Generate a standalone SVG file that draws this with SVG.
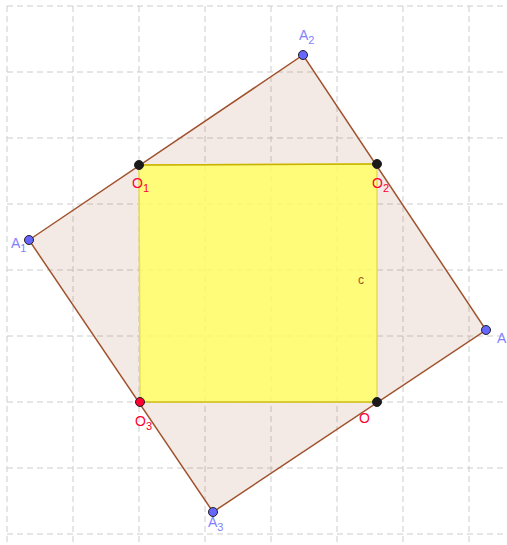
<svg xmlns="http://www.w3.org/2000/svg" width="507" height="545" viewBox="0 0 507 545">
<style>
.grid line{stroke:#cccccc;stroke-width:1;stroke-dasharray:6,4}
.pt{stroke:#202020;stroke-width:1}
.lblA{font-family:"Liberation Sans",Arial,sans-serif;font-size:14px;fill:#7f7fff}
.lblO{font-family:"Liberation Sans",Arial,sans-serif;font-size:14px;fill:#ff0033}
.sub{font-size:11px}
</style>
<rect width="507" height="545" fill="#ffffff"/>
<g class="grid">
<line x1="7" y1="6" x2="7" y2="545"/>
<line x1="73" y1="6" x2="73" y2="545"/>
<line x1="139" y1="6" x2="139" y2="545"/>
<line x1="205" y1="6" x2="205" y2="545"/>
<line x1="271" y1="6" x2="271" y2="545"/>
<line x1="337" y1="6" x2="337" y2="545"/>
<line x1="403" y1="6" x2="403" y2="545"/>
<line x1="469" y1="6" x2="469" y2="545"/>
<line x1="7" y1="6" x2="507" y2="6"/>
<line x1="7" y1="72" x2="507" y2="72"/>
<line x1="7" y1="138" x2="507" y2="138"/>
<line x1="7" y1="204" x2="507" y2="204"/>
<line x1="7" y1="270" x2="507" y2="270"/>
<line x1="7" y1="336" x2="507" y2="336"/>
<line x1="7" y1="402" x2="507" y2="402"/>
<line x1="7" y1="468" x2="507" y2="468"/>
<line x1="7" y1="534" x2="507" y2="534"/>
</g>
<g id="bigSquare">
<polygon points="29,240 303,55 486,330 213,512" fill="#a0522d" fill-opacity="0.12" stroke="#a0522d" stroke-width="1.5"/>
</g>
<g id="yellowSquare">
<polygon points="139,165 377,164 377,402 140,402" fill="#ffff66" fill-opacity="0.85" stroke="#e8dc55" stroke-width="1.5"/>
<line x1="139" y1="165" x2="377" y2="164" stroke="#c8b400" stroke-width="1.5"/>
<line x1="140" y1="402" x2="377" y2="402" stroke="#c8b400" stroke-width="1"/>
<text x="358" y="284" font-family="'Liberation Sans',Arial,sans-serif" font-size="12" fill="#a0522d">c</text>
</g>
<g id="A1"><circle class="pt" cx="29" cy="240" r="4.5" fill="#6666ff"/><text class="lblA" x="11" y="248">A<tspan class="sub" dy="4">1</tspan></text></g>
<g id="A2"><circle class="pt" cx="303" cy="55" r="4.5" fill="#6666ff"/><text class="lblA" x="299" y="40">A<tspan class="sub" dy="4">2</tspan></text></g>
<g id="A"><circle class="pt" cx="486" cy="330" r="4.5" fill="#6666ff"/><text class="lblA" x="497" y="343">A</text></g>
<g id="A3"><circle class="pt" cx="213" cy="512" r="4.5" fill="#6666ff"/><text class="lblA" x="208" y="527">A<tspan class="sub" dy="4">3</tspan></text></g>
<g id="O1"><circle class="pt" cx="139" cy="165" r="4.5" fill="#1a1a1a"/><text class="lblO" x="132" y="188">O<tspan class="sub" dy="4">1</tspan></text></g>
<g id="O2"><circle class="pt" cx="377" cy="164" r="4.5" fill="#1a1a1a"/><text class="lblO" x="372" y="188">O<tspan class="sub" dy="4">2</tspan></text></g>
<g id="O3"><circle class="pt" cx="140" cy="402" r="4.5" fill="#ff0033"/><text class="lblO" x="135" y="426">O<tspan class="sub" dy="4">3</tspan></text></g>
<g id="O"><circle class="pt" cx="377" cy="402" r="4.5" fill="#1a1a1a"/><text class="lblO" x="359" y="423">O</text></g>
</svg>
